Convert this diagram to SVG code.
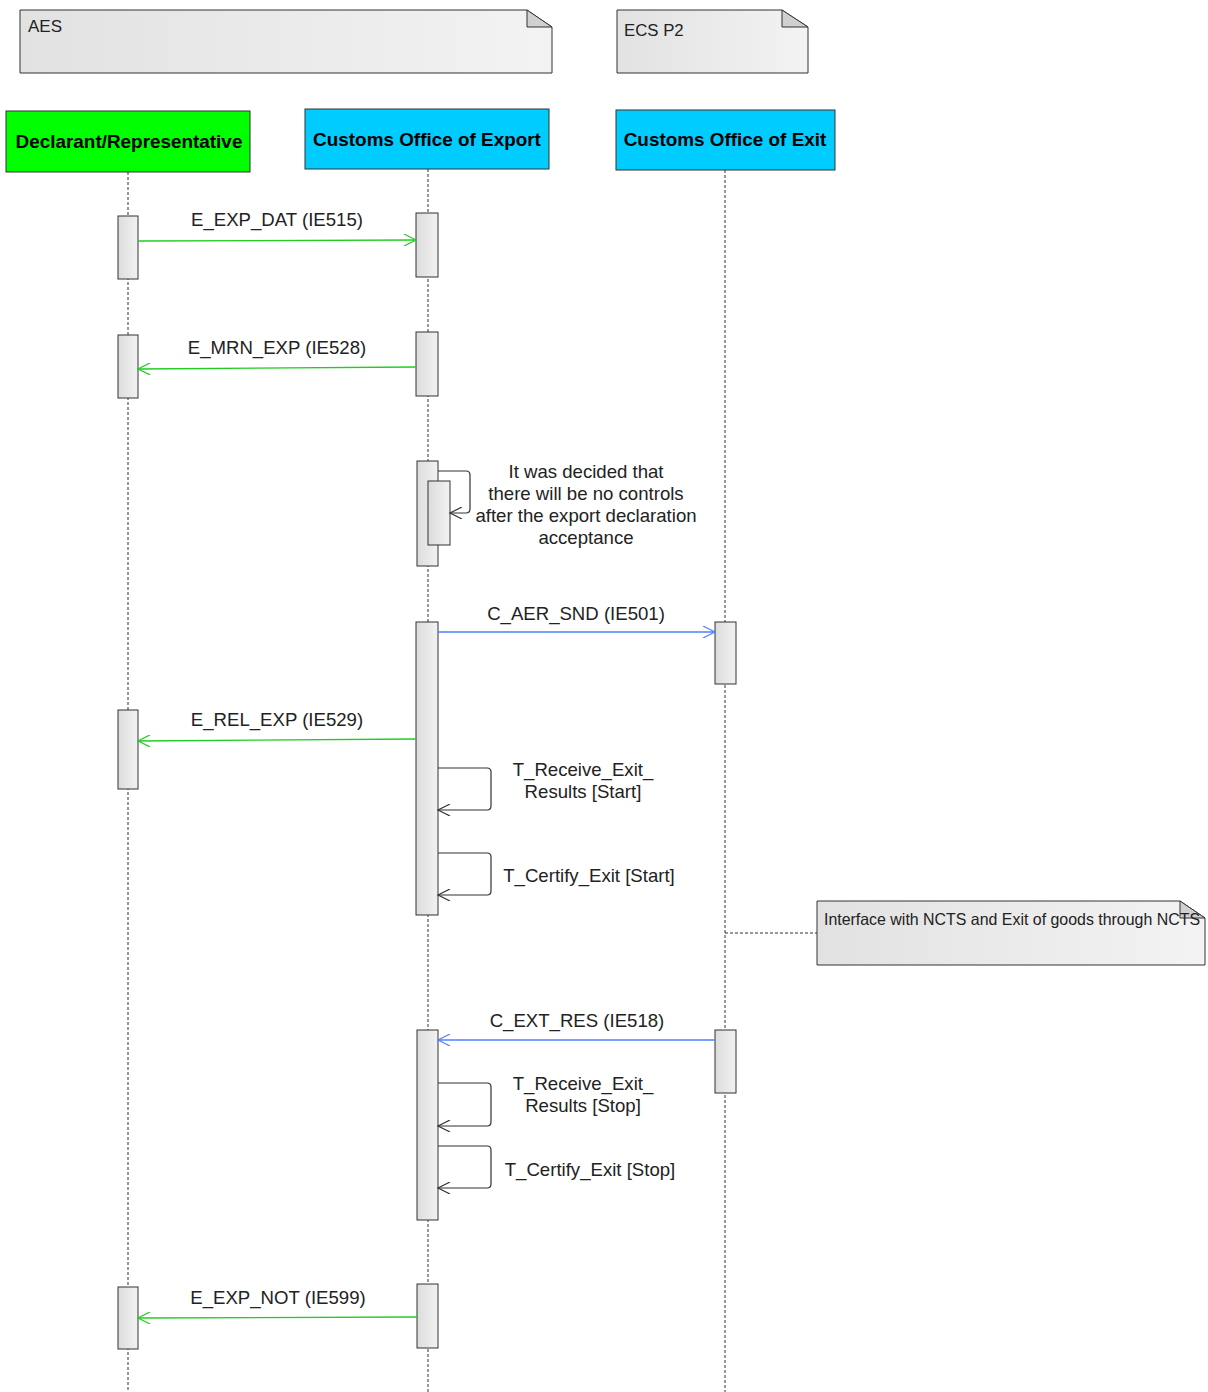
<svg xmlns="http://www.w3.org/2000/svg" width="1208" height="1392" viewBox="0 0 1208 1392">
<style>
text{font-family:"Liberation Sans",Arial,sans-serif;fill:#222}
.lbl{font-size:18.6px;text-anchor:middle}
.hdr{font-size:18.9px;font-weight:bold;text-anchor:middle;fill:#000}
.note{fill:url(#ng);stroke:#333;stroke-width:1}
.fold{fill:#d0d0d0;stroke:#333;stroke-width:1}
.life{stroke:#333;stroke-width:1;stroke-dasharray:3,2;fill:none}
.act{fill:url(#ag);stroke:#333;stroke-width:1}
.mg{stroke:#22cc22;stroke-width:1.3;fill:none}
.mb{stroke:#4f7fff;stroke-width:1.3;fill:none}
.self{stroke:#333;stroke-width:1.2;fill:none}
</style>
<defs>
<linearGradient id="ng" x1="0" y1="0" x2="1" y2="0"><stop offset="0" stop-color="#e2e2e2"/><stop offset="1" stop-color="#f3f3f3"/></linearGradient>
<linearGradient id="ag" x1="0" y1="0" x2="1" y2="0"><stop offset="0" stop-color="#dcdcdc"/><stop offset="1" stop-color="#f2f2f2"/></linearGradient>
<marker id="ahg" viewBox="0 0 12 12" refX="12" refY="6" markerWidth="20" markerHeight="12" markerUnits="userSpaceOnUse" orient="auto"><path d="M0,0 L12,6 L0,12" fill="none" stroke="#22cc22" stroke-width="1.2"/></marker>
<marker id="ahb" viewBox="0 0 12 12" refX="12" refY="6" markerWidth="20" markerHeight="12" markerUnits="userSpaceOnUse" orient="auto"><path d="M0,0 L12,6 L0,12" fill="none" stroke="#4f7fff" stroke-width="1.2"/></marker>
<marker id="ahk" viewBox="0 0 12 12" refX="12" refY="6" markerWidth="20" markerHeight="12" markerUnits="userSpaceOnUse" orient="auto"><path d="M0,0 L12,6 L0,12" fill="none" stroke="#333" stroke-width="1.2"/></marker>
</defs>
<rect width="1208" height="1392" fill="#fff"/>

<g id="note-aes">
<path class="note" d="M20,10 H527 L552,27 V73 H20 Z"/>
<path class="fold" d="M527,10 L552,27 H527 Z"/>
<text x="28" y="32" font-size="17">AES</text>
</g>
<g id="note-ecs">
<path class="note" d="M617,10 H782 L808,27 V73 H617 Z"/>
<path class="fold" d="M782,10 L808,27 H782 Z"/>
<text x="624" y="36" font-size="16.8">ECS P2</text>
</g>

<g id="lifelines">
<line class="life" x1="128" y1="172" x2="128" y2="1392"/>
<line class="life" x1="428" y1="169" x2="428" y2="1392"/>
<line class="life" x1="725" y1="170" x2="725" y2="1392"/>
</g>

<g id="declarant">
<rect x="6" y="111" width="244" height="61" fill="#00ff00" stroke="#333"/>
<text class="hdr" x="129" y="148">Declarant/Representative</text>
<rect class="act" x="118" y="216" width="20" height="63"/>
<rect class="act" x="118" y="335" width="20" height="63"/>
<rect class="act" x="118" y="710" width="20" height="79"/>
<rect class="act" x="118" y="1287" width="20" height="62"/>
</g>
<g id="export">
<rect x="305" y="109" width="244" height="60" fill="#00ccff" stroke="#333"/>
<text class="hdr" x="427" y="146">Customs Office of Export</text>
<rect class="act" x="416" y="213" width="22" height="64"/>
<rect class="act" x="416" y="332" width="22" height="64"/>
<rect class="act" x="417" y="461" width="21" height="105"/>
<rect class="act" x="428" y="481" width="22" height="64"/>
<rect class="act" x="416" y="622" width="22" height="293"/>
<rect class="act" x="417" y="1030" width="21" height="190"/>
<rect class="act" x="417" y="1284" width="21" height="64"/>
</g>
<g id="exit">
<rect x="616" y="110" width="219" height="60" fill="#00ccff" stroke="#333"/>
<text class="hdr" x="725" y="146">Customs Office of Exit</text>
<rect class="act" x="715" y="622" width="21" height="62"/>
<rect class="act" x="715" y="1030" width="21" height="63"/>
</g>
<g id="note-ncts">
<path class="note" d="M817,901 H1180 L1205,918 V965 H817 Z"/>
<path class="fold" d="M1180,901 L1205,918 H1180 Z"/>
<text x="824" y="925" font-size="16.5" textLength="376" lengthAdjust="spacingAndGlyphs">Interface with NCTS and Exit of goods through NCTS</text>
</g>

<g id="connectors">
<line class="life" x1="725" y1="933" x2="817" y2="933"/>
<line class="mg" x1="138" y1="241" x2="416" y2="240" marker-end="url(#ahg)"/>
<text class="lbl" x="277" y="226">E_EXP_DAT (IE515)</text>
<line class="mg" x1="416" y1="367" x2="138" y2="369" marker-end="url(#ahg)"/>
<text class="lbl" x="277" y="354">E_MRN_EXP (IE528)</text>
<path class="self" d="M438,471 H466 Q470,471 470,475 V509 Q470,513 466,513 H450" marker-end="url(#ahk)"/>
<text class="lbl" x="586" y="478">It was decided that</text>
<text class="lbl" x="586" y="500">there will be no controls</text>
<text class="lbl" x="586" y="522">after the export declaration</text>
<text class="lbl" x="586" y="544">acceptance</text>
<line class="mb" x1="438" y1="632" x2="715" y2="632" marker-end="url(#ahb)"/>
<text class="lbl" x="576" y="620">C_AER_SND (IE501)</text>
<line class="mg" x1="416" y1="739" x2="138" y2="741" marker-end="url(#ahg)"/>
<text class="lbl" x="277" y="726">E_REL_EXP (IE529)</text>
<path class="self" d="M438,768 H487 Q491,768 491,772 V806 Q491,810 487,810 H438" marker-end="url(#ahk)"/>
<text class="lbl" x="583" y="776">T_Receive_Exit_</text>
<text class="lbl" x="583" y="798">Results [Start]</text>
<path class="self" d="M438,853 H487 Q491,853 491,857 V891 Q491,895 487,895 H438" marker-end="url(#ahk)"/>
<text class="lbl" x="589" y="882">T_Certify_Exit [Start]</text>
<line class="mb" x1="715" y1="1040" x2="438" y2="1040" marker-end="url(#ahb)"/>
<text class="lbl" x="577" y="1027">C_EXT_RES (IE518)</text>
<path class="self" d="M438,1083 H487 Q491,1083 491,1087 V1122 Q491,1126 487,1126 H438" marker-end="url(#ahk)"/>
<text class="lbl" x="583" y="1090">T_Receive_Exit_</text>
<text class="lbl" x="583" y="1112">Results [Stop]</text>
<path class="self" d="M438,1146 H487 Q491,1146 491,1150 V1184 Q491,1188 487,1188 H438" marker-end="url(#ahk)"/>
<text class="lbl" x="590" y="1176">T_Certify_Exit [Stop]</text>
<line class="mg" x1="418" y1="1317" x2="138" y2="1318" marker-end="url(#ahg)"/>
<text class="lbl" x="278" y="1304">E_EXP_NOT (IE599)</text>
</g>
</svg>
